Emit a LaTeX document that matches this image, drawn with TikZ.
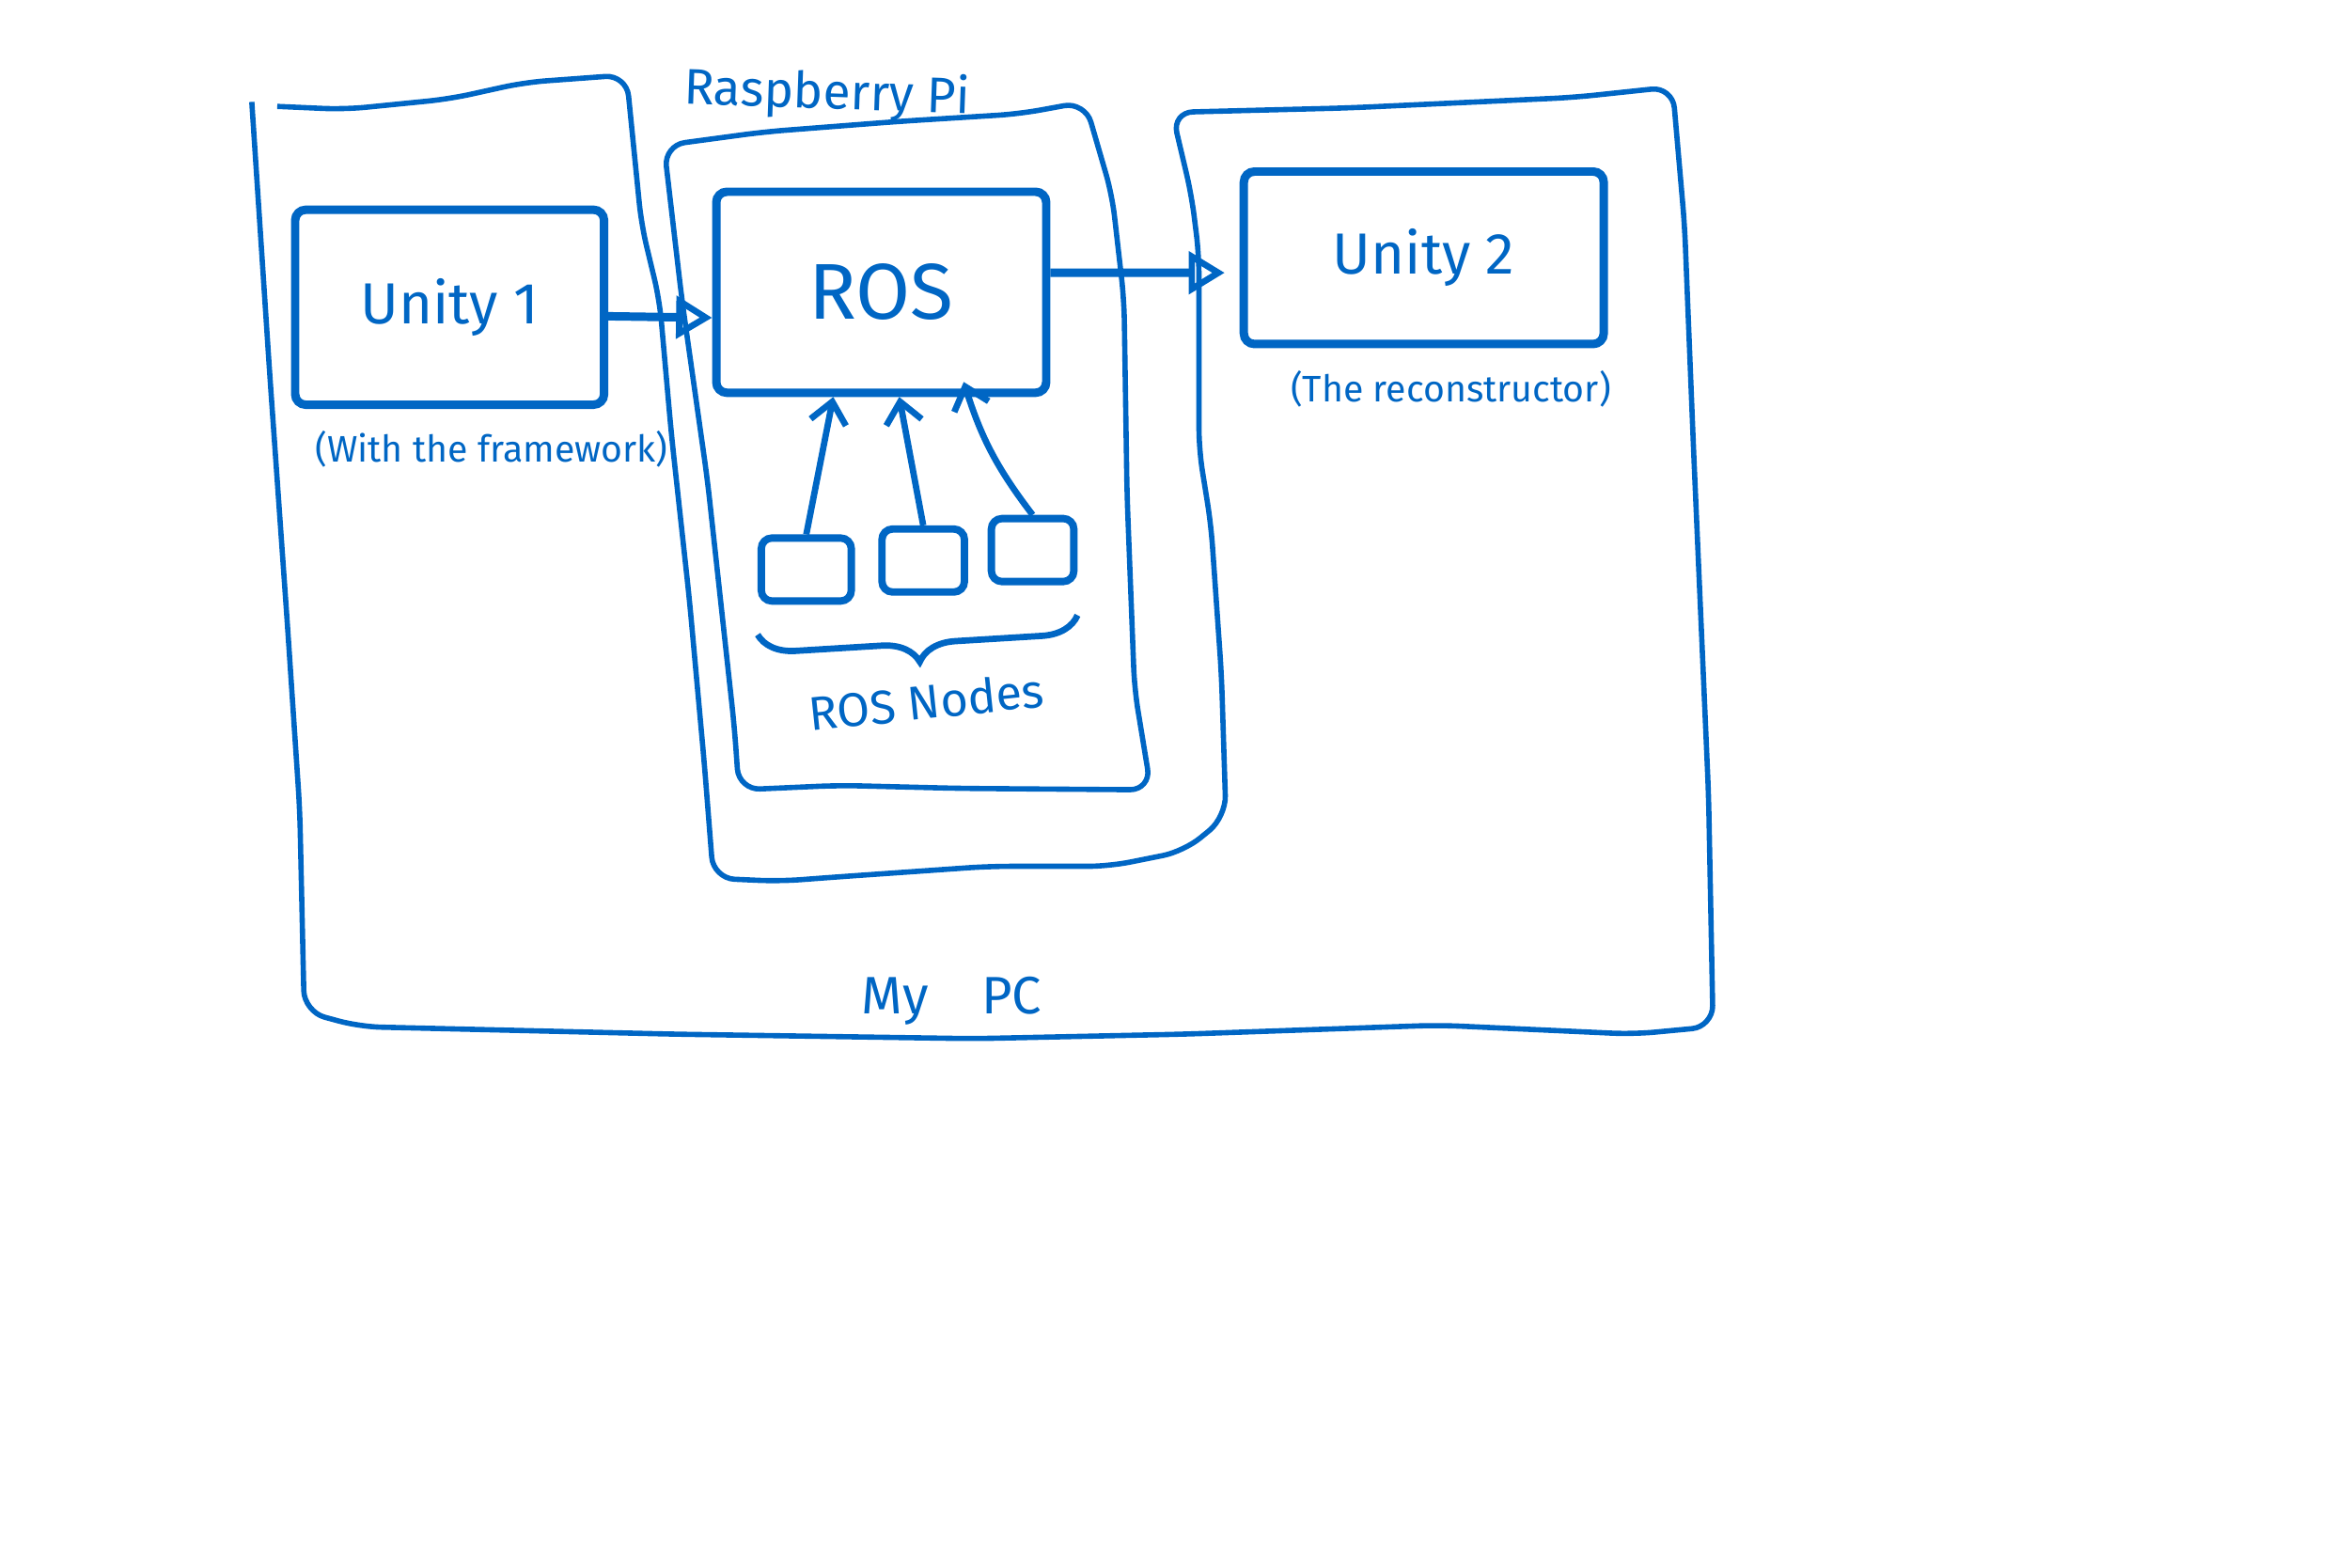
\documentclass[tikz,border=0pt]{standalone}
\usepackage{fontspec}
\setmainfont{Fira Sans}
\usetikzlibrary{positioning, arrows.meta, decorations.pathreplacing}
\definecolor{inkblue}{RGB}{0, 102, 196}

\begin{document}
\begin{tikzpicture}[
  x=0.01cm, y=-0.01cm,
  color=inkblue,
  wall/.style={
    draw=inkblue,
    line width=1pt,
    rounded corners=4pt,
    line join=round,
  },
  appbox/.style={
    draw=inkblue,
    line width=1.6pt,
    rounded corners=2pt,
    font=\fontsize{11}{13}\selectfont,
  },
  rosnode/.style={
    draw=inkblue,
    line width=1.4pt,
    rounded corners=2pt,
    minimum width=0.55cm,
    minimum height=0.42cm,
  },
  note/.style={
    font=\fontsize{7}{8}\selectfont,
    inner sep=1pt,
  },
  feed/.style={
    line width=1.6pt,
    -{Triangle[open, length=2.4mm, width=2.8mm, line width=1.2pt]},
  },
  uplink/.style={
    line width=1.2pt,
    -{Straight Barb[length=1.4mm, width=2.4mm]},
  },
  nodebrace/.style={
    line width=1.2pt,
    decorate,
    decoration={brace, mirror, amplitude=7pt},
  }
]
  \useasboundingbox (0,0) rectangle (1568,1046);

  % === MY PC (outer frame with the notch for the Pi) ===
  \draw[wall] (168,68) -- (180,250) -- (192,420) -- (200,540) -- (203,675)
    -- (240,685) -- (450,690) -- (650,693) -- (790,690) -- (960,684)
    -- (1090,690) -- (1143,685) -- (1140,530) -- (1130,300) -- (1124,150)
    -- (1116,58) -- (1050,65) -- (900,72) -- (782,75)
    -- (795,130) -- (800,170) -- (800,300) -- (808,350) -- (815,450)
    -- (818,545) -- (790,568) -- (740,578) -- (660,578) -- (560,585)
    -- (520,588) -- (476,586) -- (470,510) -- (460,400) -- (448,290)
    -- (440,200) -- (428,150) -- (418,50) -- (350,55)
    -- (300,66) -- (230,73) -- (185,71);
  \node[font=\fontsize{10}{12}\selectfont] (pc-label) at (635,668) {My\quad PC};

  % === RASPBERRY PI ===
  \draw[wall] (443,97) -- (510,88) -- (600,81) -- (680,76) -- (724,68)
    -- (742,130) -- (750,200) -- (752,330) -- (757,460) -- (768,527)
    -- (640,526) -- (560,524) -- (493,527) -- (490,485)
    -- (472,320) -- (455,200) -- cycle;
  \node[font=\fontsize{9.5}{11}\selectfont, rotate=-2] (pi-label) at (552,63) {Raspberry Pi};

  % Unity 1 (left)
  \node[appbox, minimum width=2.06cm, minimum height=1.3cm] (unity1) at (300,205) {Unity 1};
  \node[note, below=3pt of unity1, xshift=0.28cm] (unity1-note) {(With the framework)};

  % ROS (middle)
  \node[appbox, minimum width=2.2cm, minimum height=1.34cm,
        font=\fontsize{15}{18}\selectfont] (ros) at (588,195) {ROS};

  % Unity 2 (right)
  \node[appbox, minimum width=2.4cm, minimum height=1.15cm] (unity2) at (950,172) {Unity 2};
  \node[note, below=3pt of unity2, xshift=0.18cm] (unity2-note) {(The reconstructor)};

  % ROS nodes
  \node[rosnode, minimum width=0.6cm] (node-a) at (538,380) {};
  \node[rosnode] (node-b) at (616,374) {};
  \node[rosnode] (node-c) at (689,367) {};

  % Data flow
  \draw[feed] ([yshift=-0.06cm]unity1.east) -- ([yshift=-0.17cm]ros.west);
  \draw[feed, shorten >=0.1cm] ([yshift=0.13cm]ros.east) -- ([yshift=-0.1cm]unity2.west);

  \draw[uplink] (node-a.north) -- ([xshift=-0.32cm]ros.south);
  \draw[uplink] (node-b.north) -- ([xshift=0.12cm]ros.south);
  \draw[uplink] (node-c.north) to[bend left=10] ([xshift=0.55cm, yshift=0.1cm]ros.south);

  % Brace and its label
  \draw[nodebrace] ([yshift=-0.2cm]node-a.south west) -- ([yshift=-0.2cm]node-c.south east);
  \node[font=\fontsize{9}{11}\selectfont, rotate=6] (nodes-label) at (618,468) {ROS Nodes};

\end{tikzpicture}
\end{document}
